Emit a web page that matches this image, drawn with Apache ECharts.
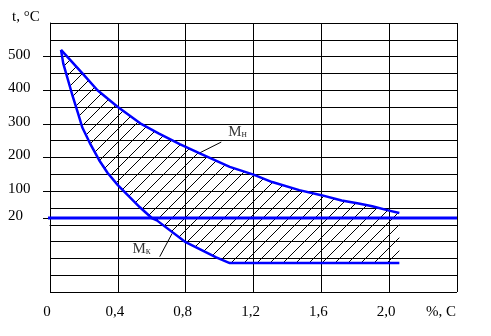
<!DOCTYPE html>
<html>
<head>
<meta charset="utf-8">
<script src="https://cdn.jsdelivr.net/npm/echarts@6/dist/echarts.min.js"></script>
<style>
html,body{margin:0;padding:0;background:#fff;}
#chart{width:491px;height:336px;}
</style>
</head>
<body>
<div id="chart"></div>
<script>
// ---- data ----
const mnCurve = [[0.065,520],[0.19,451],[0.28,400],[0.4,350],[0.54,299],[0.64,272],[0.765,240],[0.88,213],[1.06,172],[1.2,149],[1.31,127],[1.47,103],[1.6,88],[1.72,72],[1.82,63],[1.9,55],[2.0,42],[2.06,35]];
const mkCurve = [[0.065,520],[0.078,480],[0.135,380],[0.165,332],[0.19,290],[0.235,243],[0.29,192],[0.34,154],[0.4,118],[0.47,82],[0.53,52],[0.6,20],[0.63,13],[0.8,-52],[0.98,-97],[1.06,-114],[2.06,-114]];
const roomTempLine = [[-0.035,20],[2.4,20]];
const yLabelValues = [20,100,200,300,400,500];
const mnLabel = [[1.106,276]];
const mnLeader = [[1.01,246],[0.88,213]];
const mkLabel = [[0.54,-73]];
const mkLeader = [[0.647,-95],[0.72,-26]];

const FONT = 'Liberation Serif';
const BLUE = '#0000ff';

// hatch pattern
const pc = document.createElement('canvas');
pc.width = 13; pc.height = 13;
const ctx = pc.getContext('2d');
ctx.strokeStyle = '#000'; ctx.lineWidth = 1;
ctx.beginPath(); ctx.moveTo(-1,14); ctx.lineTo(14,-1); ctx.stroke();

const chart = echarts.init(document.getElementById('chart'), null, {renderer:'canvas'});
const option = {
  animation:false,
  backgroundColor:'#fff',
  title:{text:'t, °C', left:7, top:5, textStyle:{fontFamily:FONT,fontSize:15,fontWeight:'normal',color:'#000'}},
  grid:{left:50,right:34,top:23,bottom:44},
  xAxis:{type:'value',min:0,max:2.4,interval:0.4,
    axisLine:{lineStyle:{color:'#000',width:1}},
    axisTick:{show:true,length:5,lineStyle:{color:'#000'}},
    splitLine:{show:true,lineStyle:{color:'#000',width:1}},
    axisLabel:{margin:13,fontFamily:FONT,fontSize:15,color:'#000',
      formatter:v=>{ if (Math.abs(v-2.4)<1e-6) return '{u|%, C}'; return '{n|'+(v===0?'0':v.toFixed(1).replace('.',','))+'}'; },
      rich:{n:{fontFamily:FONT,fontSize:15,color:'#000',padding:[0,6,0,0]},u:{fontFamily:FONT,fontSize:15,color:'#000',padding:[0,32,0,0]}}}
  },
  yAxis:[
    {type:'value',min:-200,max:600,interval:50,position:'left',
      axisLine:{show:true,lineStyle:{color:'#000',width:1}},
      axisTick:{show:false},
      axisLabel:{show:false},
      splitLine:{show:true,lineStyle:{color:'#000',width:1}}},
    {type:'value',min:-200,max:600,interval:50,position:'left',offset:0,
      axisLine:{show:false},
      axisTick:{show:true,length:7,customValues:yLabelValues,lineStyle:{color:'#000'}},
      splitLine:{show:false},
      axisLabel:{margin:12,customValues:yLabelValues,formatter:v=>'{a|'+v+'}',
        rich:{a:{fontFamily:FONT,fontSize:15,color:'#000',width:30,align:'left',padding:[0,0,4,0]}}}}
  ],
  series:[
    {type:'custom',silent:true,z:2,
      renderItem:(params,api)=>{
        if (params.dataIndex!==0) return null;
        const pts=[];
        mnCurve.forEach(p=>pts.push(api.coord(p)));
        mkCurve.slice().reverse().forEach(p=>pts.push(api.coord(p)));
        return {type:'polygon',shape:{points:pts},style:{fill:{image:pc,repeat:'repeat'},stroke:null}};
      },
      data:[[0,0]]},
    {type:'line',data:roomTempLine,clip:false,showSymbol:false,z:4,lineStyle:{color:BLUE,width:3}},
    {type:'line',data:mnCurve,showSymbol:false,z:5,lineStyle:{color:BLUE,width:2.5}},
    {type:'line',data:mkCurve,showSymbol:false,z:5,lineStyle:{color:BLUE,width:2.5}},
    {type:'line',data:mnLeader,showSymbol:false,z:4,lineStyle:{color:'#000',width:1}},
    {type:'line',data:mkLeader,showSymbol:false,z:4,lineStyle:{color:'#000',width:1}},
    {type:'scatter',data:mnLabel,symbolSize:0,z:6,label:{show:true,position:'inside',formatter:'{m|M}{s|н}',
      rich:{m:{fontFamily:FONT,fontSize:15,color:'#000'},s:{fontFamily:FONT,fontSize:10,color:'#000',verticalAlign:'bottom',padding:[5,0,0,0]}}}},
    {type:'scatter',data:mkLabel,symbolSize:0,z:6,label:{show:true,position:'inside',formatter:'{m|M}{s|к}',
      rich:{m:{fontFamily:FONT,fontSize:15,color:'#000'},s:{fontFamily:FONT,fontSize:10,color:'#000',verticalAlign:'bottom',padding:[5,0,0,0]}}}}
  ]
};
chart.setOption(option);
</script>
</body>
</html>
